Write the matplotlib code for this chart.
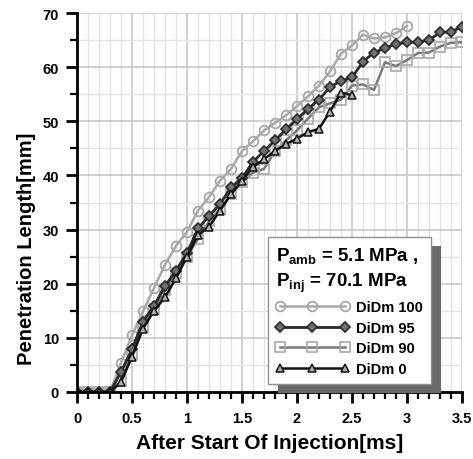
import numpy as np
import matplotlib as mpl
mpl.use('Agg')
import matplotlib.pyplot as plt
from matplotlib.patches import Rectangle
from matplotlib.transforms import IdentityTransform
from matplotlib.ticker import MultipleLocator

# time after start of injection [ms]
t = [0.0, 0.1, 0.2, 0.3, 0.4, 0.5, 0.6, 0.7, 0.8, 0.9,
     1.0, 1.1, 1.2, 1.3, 1.4, 1.5, 1.6, 1.7, 1.8, 1.9,
     2.0, 2.1, 2.2, 2.3, 2.4, 2.5, 2.6, 2.7, 2.8, 2.9,
     3.0, 3.1, 3.2, 3.3, 3.4, 3.5]

# penetration length [mm]
didm100 = [0, 0, 0, 0, 5.4, 10.5, 14.9, 19.2, 23.5, 27.0,
           29.6, 33.5, 36.0, 39.0, 41.2, 44.5, 46.3, 48.3, 49.7, 51.1,
           52.8, 54.6, 56.6, 59.2, 62.5, 64.0, 66.0, 65.3, 65.5, 66.3,
           67.6]
didm95 = [0, 0, 0, 0, 3.7, 7.9, 13.0, 15.9, 19.6, 22.4,
          25.7, 30.2, 32.5, 34.7, 37.8, 39.5, 42.5, 44.5, 46.5, 48.5,
          50.4, 52.3, 54.0, 56.3, 57.5, 58.1, 61.0, 62.7, 63.5, 64.3,
          64.6, 64.6, 65.0, 66.4, 66.5, 67.5]
didm90 = [0, 0, 0, 0, 2.0, 7.0, 12.0, 15.3, 18.8, 22.0,
          25.0, 28.3, 31.5, 33.8, 36.5, 38.8, 40.5, 41.2, 44.5, 46.5,
          48.3, 50.5, 52.6, 53.3, 54.0, 56.6, 56.8, 55.8, 60.9, 60.2,
          61.3, 62.6, 62.7, 63.8, 64.5, 64.6]
didm0 = [0, 0, 0, 0, 1.8, 6.5, 11.7, 15.0, 17.5, 21.0,
         25.0, 29.0, 30.5, 33.5, 36.5, 39.0, 41.5, 43.0, 44.5, 45.8,
         46.8, 48.0, 48.6, 51.8, 55.3, 54.8]

labels = ['DiDm 100', 'DiDm 95', 'DiDm 90', 'DiDm 0']
xtick_labels = ['0', '0.5', '1', '1.5', '2', '2.5', '3', '3.5']

# configuration
mpl.rcParams['font.family'] = ['Liberation Sans', 'DejaVu Sans']
mpl.rcParams['font.weight'] = 'bold'
mpl.rcParams['mathtext.fontset'] = 'custom'
mpl.rcParams['mathtext.rm'] = 'Liberation Sans:bold'
mpl.rcParams['mathtext.bf'] = 'Liberation Sans:bold'
mpl.rcParams['mathtext.it'] = 'Liberation Sans:bold'

fig = plt.figure(figsize=(4.73, 4.60), dpi=100)
ax = fig.add_axes([77 / 473, 1 - 393 / 460, 385 / 473, 379 / 460])

ax.plot(t[:len(didm100)], didm100, color='#a8a8a8', lw=1.8, marker='o', ms=7,
        mfc='none', mec='#a8a8a8', mew=1.3, label=labels[0], zorder=3)
ax.plot(t[:len(didm95)], didm95, color='#2a2a2a', lw=2.0, marker='D', ms=5,
        mfc='#707070', mec='#2a2a2a', mew=1.2, label=labels[1], zorder=4)
ax.plot(t[:len(didm90)], didm90, color='#787878', lw=1.8, marker='s', ms=7.5,
        mfc='none', mec='#a8a8a8', mew=1.2, label=labels[2], zorder=3)
ax.plot(t[:len(didm0)], didm0, color='#111111', lw=1.8, marker='^', ms=6,
        mfc='#b0b0b0', mec='#111111', mew=1.1, label=labels[3], zorder=5)

ax.set_xlim(0, 3.5)
ax.set_ylim(0, 70)
ax.set_xticks(np.arange(0, 3.51, 0.5))
ax.set_xticklabels(xtick_labels)
ax.xaxis.set_minor_locator(MultipleLocator(0.1))
ax.yaxis.set_major_locator(MultipleLocator(10))
ax.yaxis.set_minor_locator(MultipleLocator(5))

ax.grid(which='major', color='#c8c8c8', lw=1.2, zorder=0)
ax.grid(which='minor', color='#e4e4e4', lw=1.0, zorder=0)
ax.set_axisbelow(True)

for s in ['top', 'right']:
    ax.spines[s].set_visible(False)
for s in ['left', 'bottom']:
    ax.spines[s].set_linewidth(2.0)
    ax.spines[s].set_zorder(6)
ax.tick_params(which='major', direction='out', length=8, width=2, labelsize=10.5, pad=6)
ax.tick_params(which='minor', direction='out', length=5, width=1.6)
ax.tick_params(axis='y', pad=5)

ax.set_xlabel('After Start Of Injection[ms]', fontsize=15, fontweight='bold')
ax.set_ylabel('Penetration Length[mm]', fontsize=14.5, fontweight='bold')
ax.xaxis.set_label_coords(0.5, -0.132)
ax.yaxis.set_label_coords(-0.13, 0.38)
ax.xaxis.label.set_va('center')
ax.yaxis.label.set_va('center')

title = '$\\mathbf{P_{amb}}$ = 5.1 MPa ,\n$\\mathbf{P_{inj}}$ = 70.1 MPa'
leg = ax.legend(loc='lower left', bbox_to_anchor=(0.496, 0.021), borderaxespad=0,
                numpoints=3, handlelength=5.0, handletextpad=0.5, labelspacing=0.45,
                fontsize=10.5, title=title, title_fontsize=13.5, alignment='left',
                fancybox=False, framealpha=1, edgecolor='#909090', borderpad=0.55)
leg.get_frame().set_linewidth(1.0)
leg.get_title().set_linespacing(1.35)
leg.set_zorder(10)

# drop shadow behind legend
fig.canvas.draw()
bb = leg.get_window_extent()
shadow = Rectangle((bb.x0 + 10, bb.y0 - 9), bb.width, bb.height, transform=IdentityTransform(),
                   facecolor='#6a6a6a', edgecolor='none', zorder=9, clip_on=False)
ax.add_artist(shadow)

plt.savefig('out.png', dpi=100)
